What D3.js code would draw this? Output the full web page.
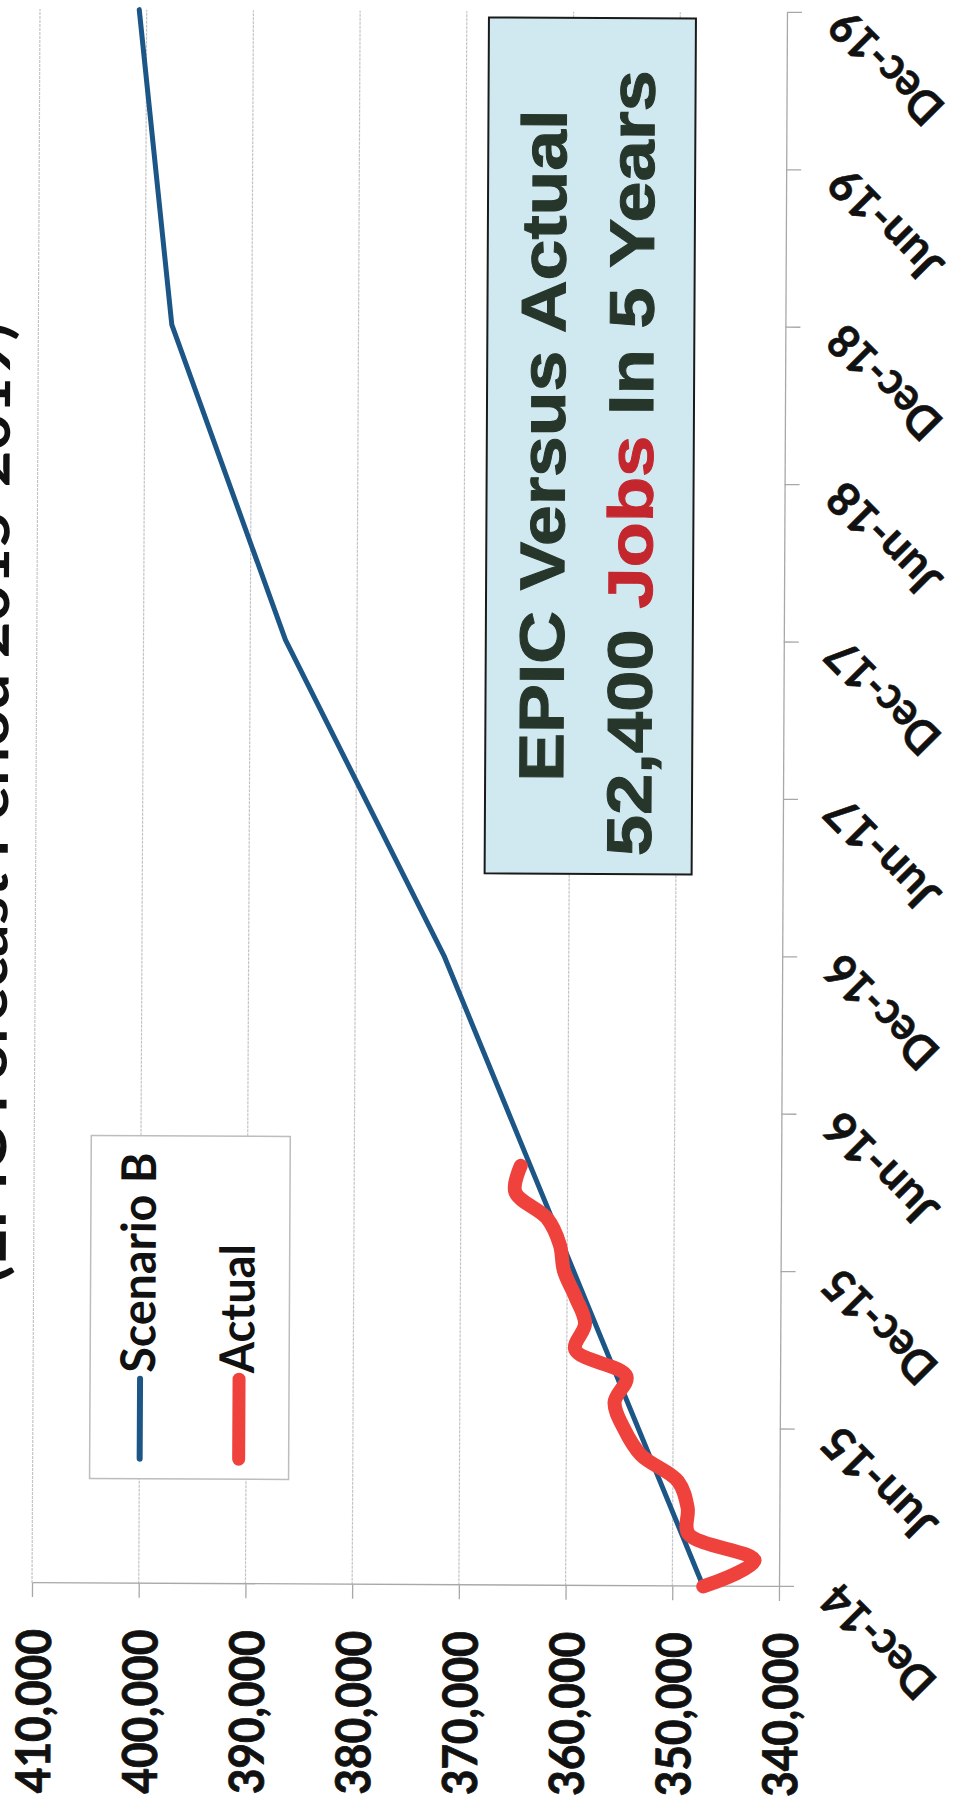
<!DOCTYPE html>
<html>
<head>
<meta charset="utf-8">
<script src="https://cdn.jsdelivr.net/npm/d3@7"></script>
<style>
  html, body { margin: 0; padding: 0; background: #ffffff; }
  svg { display: block; }
</style>
</head>
<body>
<script>
// ---------------- DATA ----------------
const valueTicks = [340000, 350000, 360000, 370000, 380000, 390000, 400000, 410000];
const dateTickLabels = ["Dec-14", "Jun-15", "Dec-15", "Jun-16", "Dec-16", "Jun-17",
                        "Dec-17", "Jun-18", "Dec-18", "Jun-19", "Dec-19"];

const scenarioDates  = ["Dec-14", "Dec-15", "Dec-16", "Dec-17", "Dec-18", "Dec-19"];
const scenarioValues = [347100, 359400, 371700, 386700, 397500, 400700];

const actualDates  = ["Dec-14", "Jan-15", "Feb-15", "Mar-15", "Apr-15", "May-15", "Jun-15",
                      "Jul-15", "Aug-15", "Sep-15", "Oct-15", "Nov-15", "Dec-15", "Jan-16",
                      "Feb-16", "Mar-16", "Apr-16"];
const actualValues = [347100, 342300, 348500, 348600, 349500, 353000, 354600,
                      355500, 354400, 359200, 358300, 359200, 360300, 360700,
                      361900, 364900, 364400];

const seriesNames  = ["Scenario B", "Actual"];
const titleText    = "(EPIC Forecast Period 2015-2019)";
const boxLine1     = "EPIC Versus Actual";
const boxLine2a    = "52,400 ";
const boxLine2b    = "Jobs";
const boxLine2c    = " In 5 Years";

// ---------------- SETUP ----------------
const W = 958, H = 1809;
const parse = d3.timeParse("%b-%y");
const base = parse("Dec-14");
const monthIndex = s => {
  const d = parse(s);
  return (d.getFullYear() - base.getFullYear()) * 12 + (d.getMonth() - base.getMonth());
};

const svg = d3.select("body").append("svg").attr("width", W).attr("height", H);
const outer = svg.append("g").attr("transform", "rotate(0.29,410,798)");
// whole chart is rotated 90deg counter-clockwise on the page
const g = outer.append("g").attr("transform", `translate(0,${H}) rotate(-90)`);

const x = d3.scaleLinear().domain([0, 60]).range([224, 1798]);
const y = d3.scaleLinear().domain([340000, 410000]).range([783, 36]);

const labelFont = "Lato, 'Open Sans', 'DejaVu Sans', sans-serif";
const axisColor = "#a8a8a8";

// gridlines
g.append("g").selectAll("line")
  .data(valueTicks.filter(v => v > 340000))
  .join("line")
  .attr("x1", x(0)).attr("x2", x(60))
  .attr("y1", d => y(d)).attr("y2", d => y(d))
  .attr("stroke", "#c4c4c4").attr("stroke-width", 1.2)
  .attr("stroke-dasharray", "3,1");

// value axis (left in chart frame)
const yAxis = g.append("g")
  .attr("transform", `translate(${x(0)},0)`)
  .call(d3.axisLeft(y).tickValues(valueTicks).tickSize(14).tickSizeOuter(0)
        .tickPadding(32).tickFormat(d3.format(",")));
yAxis.select(".domain").attr("stroke", axisColor).attr("stroke-width", 1.3);
yAxis.selectAll(".tick line").attr("stroke", axisColor).attr("stroke-width", 1.3);
yAxis.selectAll(".tick text")
  .attr("dy", null).attr("dominant-baseline", "central")
  .attr("font-family", labelFont).attr("font-weight", 700).attr("font-size", 48)
  .attr("fill", "#111").attr("stroke", "#111").attr("stroke-width", 0.8)
  .attr("textLength", 164).attr("lengthAdjust", "spacingAndGlyphs");

// date axis (bottom in chart frame)
const xAxis = g.append("g")
  .attr("transform", `translate(0,${y(340000)})`)
  .call(d3.axisBottom(x).tickValues(dateTickLabels.map(monthIndex)).tickSize(15)
        .tickSizeOuter(0).tickFormat((d, i) => dateTickLabels[i]));
xAxis.select(".domain").attr("stroke", axisColor).attr("stroke-width", 1.3);
xAxis.selectAll(".tick line").attr("stroke", axisColor).attr("stroke-width", 1.3);
xAxis.selectAll(".tick text")
  .attr("x", 0).attr("y", 0).attr("dy", null)
  .attr("transform", "translate(-6,49) rotate(-45)")
  .attr("text-anchor", "end").attr("dominant-baseline", "central")
  .attr("font-family", labelFont).attr("font-weight", 700).attr("font-size", 46)
  .attr("fill", "#111").attr("stroke", "#111").attr("stroke-width", 0.6)
  .attr("textLength", 140).attr("lengthAdjust", "spacingAndGlyphs");

// series
const scenario = scenarioDates.map((d, i) => ({ m: monthIndex(d), v: scenarioValues[i] }));
const actual = actualDates.map((d, i) => ({ m: monthIndex(d), v: actualValues[i] }));

g.append("path")
  .datum(scenario)
  .attr("fill", "none").attr("stroke", "#1c5687").attr("stroke-width", 5)
  .attr("stroke-linecap", "round").attr("stroke-linejoin", "round")
  .attr("d", d3.line().x(d => x(d.m)).y(d => y(d.v)));

g.append("path")
  .datum(actual)
  .attr("fill", "none").attr("stroke", "#ef423d").attr("stroke-width", 14)
  .attr("stroke-linecap", "round").attr("stroke-linejoin", "round")
  .attr("d", d3.line().curve(d3.curveCatmullRom.alpha(0.5)).x(d => x(d.m)).y(d => y(d.v)));

// legend
const lg = g.append("g");
lg.append("rect")
  .attr("x", 329).attr("y", 93).attr("width", 343).attr("height", 199)
  .attr("fill", "#ffffff").attr("stroke", "#bdbdbd").attr("stroke-width", 1.5);
const legendItems = [
  { name: seriesNames[0], color: "#1c5687", w: 6, cy: 143, base: 158, len: 220 },
  { name: seriesNames[1], color: "#ef423d", w: 13, cy: 242, base: 257, len: 129 }
];
legendItems.forEach(it => {
  lg.append("line")
    .attr("x1", 349).attr("x2", 429).attr("y1", it.cy).attr("y2", it.cy)
    .attr("stroke", it.color).attr("stroke-width", it.w).attr("stroke-linecap", "round");
  lg.append("text")
    .attr("x", 435).attr("y", it.base)
    .attr("font-family", labelFont).attr("font-weight", 700).attr("font-size", 48)
    .attr("fill", "#111")
    .attr("textLength", it.len).attr("lengthAdjust", "spacingAndGlyphs")
    .text(it.name);
});

// annotation box
const bx = g.append("g");
bx.append("rect")
  .attr("x", 936).attr("y", 485).attr("width", 856).attr("height", 207)
  .attr("fill", "#d0e9f1").attr("stroke", "#1a1a1a").attr("stroke-width", 2);
const boxFont = "'Liberation Sans Narrow', 'Arial Narrow', 'Liberation Sans', Arial, sans-serif";
bx.append("text")
  .attr("x", 1364).attr("y", 563).attr("text-anchor", "middle")
  .attr("font-family", boxFont).attr("font-weight", 700).attr("font-size", 63)
  .attr("fill", "#27362a").attr("stroke", "#27362a").attr("stroke-width", 1)
  .attr("textLength", 672).attr("lengthAdjust", "spacingAndGlyphs")
  .text(boxLine1);
const t2 = bx.append("text")
  .attr("x", 1347).attr("y", 651).attr("text-anchor", "middle")
  .attr("font-family", boxFont).attr("font-weight", 700).attr("font-size", 63)
  .attr("fill", "#27362a").attr("stroke", "#27362a").attr("stroke-width", 1)
  .attr("textLength", 786).attr("lengthAdjust", "spacingAndGlyphs");
t2.append("tspan").text(boxLine2a);
t2.append("tspan").attr("fill", "#c4262e").attr("stroke", "#c4262e").text(boxLine2b);
t2.append("tspan").text(boxLine2c);

// title (mostly cut off at the page edge)
g.append("text")
  .attr("x", 1004).attr("y", 8).attr("text-anchor", "middle")
  .attr("font-family", labelFont).attr("font-weight", 700).attr("font-size", 56)
  .attr("fill", "#111")
  .attr("textLength", 960).attr("lengthAdjust", "spacingAndGlyphs")
  .text(titleText);
</script>
</body>
</html>
